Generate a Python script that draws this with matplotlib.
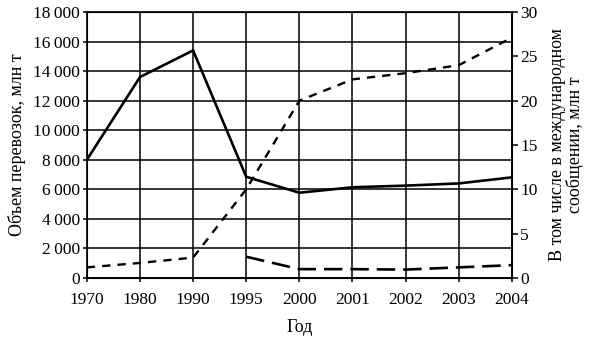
import matplotlib
matplotlib.use('Agg')
import matplotlib.pyplot as plt
import numpy as np

years = ['1970', '1980', '1990', '1995', '2000', '2001', '2002', '2003', '2004']
total_volume = [8000, 13600, 15400, 6850, 5770, 6140, 6250, 6400, 6810]
intl_a = [1.2, 1.7, 2.3, 10.0, 20.0, 22.4, 23.1, 24.0, 27.1]
intl_b_years = ['1995', '2000', '2001', '2002', '2003', '2004']
intl_b = [2.4, 1.0, 1.0, 0.95, 1.2, 1.45]

left_ticks = np.arange(0, 18001, 2000)
left_labels = ['0'] + ['{:,}'.format(v).replace(',', '\u2009') for v in left_ticks[1:]]
right_ticks = np.arange(0, 31, 5)

plt.rcParams['font.family'] = ['Liberation Serif', 'DejaVu Serif']
plt.rcParams['font.size'] = 12.5

fig = plt.figure(figsize=[5.91, 3.38], dpi=100)
ax = fig.add_axes([0.147, 0.1775, 0.719, 0.787])
x = np.arange(len(years))
xb = [years.index(y) for y in intl_b_years]

ax.plot(x, total_volume, color='black', lw=1.9, solid_joinstyle='miter')
ax.set_xlim(0, len(years) - 1)
ax.set_ylim(0, 18000)
ax.set_yticks(left_ticks)
ax.set_yticklabels(left_labels)
ax.set_xticks(x)
ax.set_xticklabels(years)
ax.grid(True, color='black', lw=1.1)
ax.set_axisbelow(True)
for s in ax.spines.values():
    s.set_linewidth(1.2)
ax.tick_params(direction='out', length=3, width=1.1, pad=2, colors='black')
ax.tick_params(axis='x', pad=7)
ax.set_ylabel('Объем перевозок, млн т', labelpad=5, fontsize=13)
ax.set_xlabel('Год', labelpad=8, fontsize=13)

ax2 = ax.twinx()
ax2.plot(x, intl_a, color='black', lw=1.7, dashes=(3.5, 3.0))
ax2.plot(xb, intl_b, color='black', lw=1.9, dashes=(7.0, 3.0))
ax2.set_ylim(0, 30)
ax2.set_yticks(right_ticks)
ax2.tick_params(direction='out', length=4, width=1.1, pad=2)
ax2.set_ylabel('В том числе в международном\nсообщении, млн т', labelpad=8,
               linespacing=1.0, fontsize=13)

fig.savefig('out.png', dpi=100)
